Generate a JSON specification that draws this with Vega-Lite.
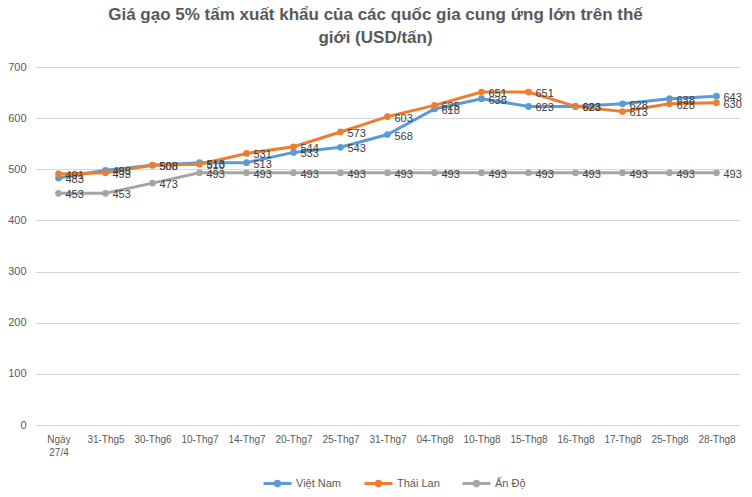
{
  "$schema": "https://vega.github.io/schema/vega-lite/v6.json",
  "width": 705,
  "height": 358,
  "autosize": "none",
  "padding": {"left": 35, "top": 67, "right": 12, "bottom": 72},
  "background": "white",
  "title": {
    "text": ["Giá gạo 5% tấm xuất khẩu của các quốc gia cung ứng lớn trên thế", "giới (USD/tấn)"],
    "font": "Liberation Sans",
    "fontSize": 17,
    "fontWeight": "bold",
    "color": "#595959",
    "anchor": "middle",
    "dx": -12,
    "offset": 14,
    "lineHeight": 23
  },
  "config": {
    "view": {"stroke": null},
    "font": "Liberation Sans"
  },
  "data": {
    "values": [
      {"date": "Ngày 27/4", "country": "Việt Nam", "price": 483},
      {"date": "31-Thg5", "country": "Việt Nam", "price": 498},
      {"date": "30-Thg6", "country": "Việt Nam", "price": 508},
      {"date": "10-Thg7", "country": "Việt Nam", "price": 513},
      {"date": "14-Thg7", "country": "Việt Nam", "price": 513},
      {"date": "20-Thg7", "country": "Việt Nam", "price": 533},
      {"date": "25-Thg7", "country": "Việt Nam", "price": 543},
      {"date": "31-Thg7", "country": "Việt Nam", "price": 568},
      {"date": "04-Thg8", "country": "Việt Nam", "price": 618},
      {"date": "10-Thg8", "country": "Việt Nam", "price": 638},
      {"date": "15-Thg8", "country": "Việt Nam", "price": 623},
      {"date": "16-Thg8", "country": "Việt Nam", "price": 623},
      {"date": "17-Thg8", "country": "Việt Nam", "price": 628},
      {"date": "25-Thg8", "country": "Việt Nam", "price": 638},
      {"date": "28-Thg8", "country": "Việt Nam", "price": 643},
      {"date": "Ngày 27/4", "country": "Thái Lan", "price": 491},
      {"date": "31-Thg5", "country": "Thái Lan", "price": 493},
      {"date": "30-Thg6", "country": "Thái Lan", "price": 508},
      {"date": "10-Thg7", "country": "Thái Lan", "price": 510},
      {"date": "14-Thg7", "country": "Thái Lan", "price": 531},
      {"date": "20-Thg7", "country": "Thái Lan", "price": 544},
      {"date": "25-Thg7", "country": "Thái Lan", "price": 573},
      {"date": "31-Thg7", "country": "Thái Lan", "price": 603},
      {"date": "04-Thg8", "country": "Thái Lan", "price": 625},
      {"date": "10-Thg8", "country": "Thái Lan", "price": 651},
      {"date": "15-Thg8", "country": "Thái Lan", "price": 651},
      {"date": "16-Thg8", "country": "Thái Lan", "price": 623},
      {"date": "17-Thg8", "country": "Thái Lan", "price": 613},
      {"date": "25-Thg8", "country": "Thái Lan", "price": 628},
      {"date": "28-Thg8", "country": "Thái Lan", "price": 630},
      {"date": "Ngày 27/4", "country": "Ấn Độ", "price": 453},
      {"date": "31-Thg5", "country": "Ấn Độ", "price": 453},
      {"date": "30-Thg6", "country": "Ấn Độ", "price": 473},
      {"date": "10-Thg7", "country": "Ấn Độ", "price": 493},
      {"date": "14-Thg7", "country": "Ấn Độ", "price": 493},
      {"date": "20-Thg7", "country": "Ấn Độ", "price": 493},
      {"date": "25-Thg7", "country": "Ấn Độ", "price": 493},
      {"date": "31-Thg7", "country": "Ấn Độ", "price": 493},
      {"date": "04-Thg8", "country": "Ấn Độ", "price": 493},
      {"date": "10-Thg8", "country": "Ấn Độ", "price": 493},
      {"date": "15-Thg8", "country": "Ấn Độ", "price": 493},
      {"date": "16-Thg8", "country": "Ấn Độ", "price": 493},
      {"date": "17-Thg8", "country": "Ấn Độ", "price": 493},
      {"date": "25-Thg8", "country": "Ấn Độ", "price": 493},
      {"date": "28-Thg8", "country": "Ấn Độ", "price": 493}
    ]
  },
  "encoding": {
    "x": {
      "field": "date",
      "type": "nominal",
      "sort": null,
      "scale": {"paddingInner": 0, "paddingOuter": 0},
      "axis": {
        "title": null,
        "labelAngle": 0,
        "labelExpr": "split(datum.label, ' ')",
        "labelFont": "Liberation Sans",
        "labelFontSize": 10,
        "labelColor": "#595959",
        "labelPadding": 9,
        "labelLineHeight": 13,
        "labelBaseline": "top",
        "ticks": false,
        "domain": true,
        "domainColor": "#d9d9d9",
        "grid": false
      }
    },
    "y": {
      "field": "price",
      "type": "quantitative",
      "scale": {"domain": [0, 700], "nice": false},
      "axis": {
        "title": null,
        "values": [0, 100, 200, 300, 400, 500, 600, 700],
        "labelFontSize": 11,
        "labelColor": "#595959",
        "labelPadding": 9,
        "ticks": false,
        "domain": false,
        "gridColor": "#d9d9d9",
        "gridWidth": 1
      }
    },
    "color": {
      "field": "country",
      "type": "nominal",
      "sort": ["Việt Nam", "Thái Lan", "Ấn Độ"],
      "scale": {"domain": ["Việt Nam", "Thái Lan", "Ấn Độ"], "range": ["#5B9BD5", "#ED7D31", "#A5A5A5"]},
      "legend": {
        "title": null,
        "orient": "none",
        "direction": "horizontal",
        "legendX": 227,
        "legendY": 401,
        "symbolType": "M-1,0L-0.17,0M0.17,0L1,0M-0.17,0A0.17,0.17 0 1 0 0.17,0A0.17,0.17 0 1 0 -0.17,0",
        "symbolSize": 784,
        "symbolStrokeWidth": 3,
        "labelFontSize": 11,
        "labelColor": "#595959",
        "columnPadding": 16,
        "labelOffset": 3
      }
    }
  },
  "layer": [
    {
      "mark": {"type": "line", "strokeWidth": 3, "point": {"filled": true, "size": 45}}
    },
    {
      "mark": {"type": "text", "align": "left", "baseline": "middle", "dx": 7, "dy": 2, "fontSize": 11, "color": "#404040"},
      "encoding": {
        "text": {"field": "price", "type": "quantitative"},
        "color": {"value": "#404040"}
      }
    }
  ]
}
